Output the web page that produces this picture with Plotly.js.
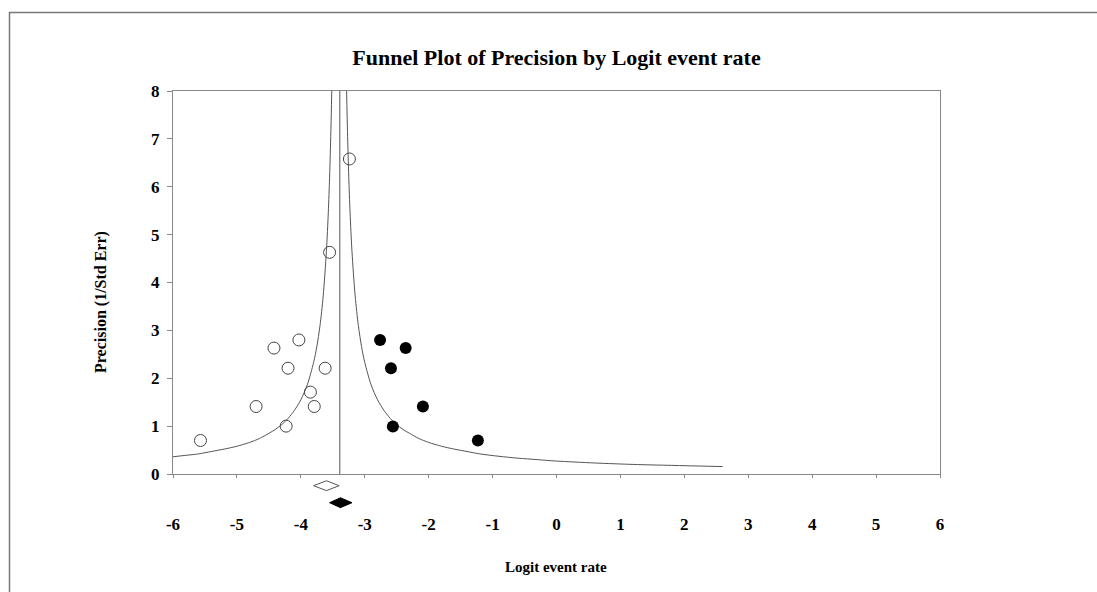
<!DOCTYPE html>
<html>
<head>
<meta charset="utf-8">
<script src="https://cdn.plot.ly/plotly-3.0.1.min.js"></script>
<style>html,body{margin:0;padding:0;background:#fff;}#chart{width:1097px;height:592px;}</style>
</head>
<body>
<div id="chart"></div>
<script>
// Observed studies (open circles)
var obsX = [-5.57, -4.70, -4.42, -4.03, -4.20, -3.62, -3.85, -3.79, -4.23, -3.24, -3.55];
var obsY = [0.70, 1.41, 2.63, 2.80, 2.21, 2.21, 1.71, 1.41, 1.00, 6.58, 4.63];
// Imputed studies (filled circles)
var impX = [-2.76, -2.36, -2.59, -2.09, -2.56, -1.23];
var impY = [2.80, 2.63, 2.21, 1.41, 0.99, 0.70];
// Funnel limits
var leftX = [-6.0,-5.8,-5.6,-5.4,-5.2,-5.0,-4.8,-4.65,-4.5,-4.4,-4.3,-4.2,-4.1,-4.0,-3.9,-3.8,-3.75,-3.7,-3.65,-3.6,-3.57,-3.55,-3.53,-3.516];
var leftY = [0.36,0.39,0.42,0.47,0.52,0.58,0.66,0.74,0.85,0.93,1.03,1.16,1.33,1.55,1.86,2.33,2.66,3.10,3.72,4.65,5.47,6.20,7.15,8.0];
var rightX = [-3.284,-3.27,-3.25,-3.23,-3.2,-3.15,-3.1,-3.05,-3.0,-2.9,-2.8,-2.7,-2.6,-2.5,-2.4,-2.3,-2.15,-2.0,-1.8,-1.6,-1.4,-1.2,-0.9,-0.6,-0.3,0.0,0.6,1.2,1.8,2.6];
var rightY = [8.0,7.15,6.2,5.47,4.65,3.72,3.10,2.66,2.33,1.86,1.55,1.33,1.16,1.03,0.93,0.85,0.74,0.66,0.58,0.52,0.47,0.42,0.37,0.33,0.30,0.27,0.23,0.20,0.18,0.155];
// Combined estimate line
var centerX = -3.39;
var centerY = [0, 8];
// Summary diamonds: [lower, estimate, upper]
var obsDiamond = [-3.80, -3.60, -3.40];
var impDiamond = [-3.55, -3.38, -3.20];
var xTicks = [-6,-5,-4,-3,-2,-1,0,1,2,3,4,5,6];
var yTicks = [0,1,2,3,4,5,6,7,8];

var serif = 'Liberation Serif, Times New Roman, serif';
var H = 0.29;
function diamond(d, row) {
  return {x: [d[0], d[1], d[2], d[1], d[0]], y: [row, row - H, row, row + H, row]};
}
var dO = diamond(obsDiamond, 1), dI = diamond(impDiamond, 2);

var traces = [
  {x: leftX, y: leftY, mode: 'lines', line: {color: '#555', width: 1, shape: 'spline', smoothing: 0.8}, hoverinfo: 'skip'},
  {x: rightX, y: rightY, mode: 'lines', line: {color: '#555', width: 1, shape: 'spline', smoothing: 0.8}, hoverinfo: 'skip'},
  {x: [centerX, centerX], y: centerY, mode: 'lines', line: {color: '#555', width: 1}},
  {x: obsX, y: obsY, mode: 'markers', marker: {symbol: 'circle-open', size: 12, color: '#444', line: {width: 1}}},
  {x: impX, y: impY, mode: 'markers', marker: {symbol: 'circle', size: 12, color: '#000'}},
  {x: dO.x, y: dO.y, yaxis: 'y2', mode: 'lines', fill: 'toself', fillcolor: '#fff', line: {color: '#555', width: 1}},
  {x: dI.x, y: dI.y, yaxis: 'y2', mode: 'lines', fill: 'toself', fillcolor: '#000', line: {color: '#000', width: 1}}
];

var layout = {
  width: 1097, height: 592,
  margin: {l: 173, r: 157, t: 91, b: 80},
  paper_bgcolor: '#fff', plot_bgcolor: '#fff',
  showlegend: false,
  title: {text: 'Funnel Plot of Precision by Logit event rate', x: 0.5, xref: 'paper', y: 1 - 57/592, yanchor: 'middle',
          font: {family: serif, size: 22, color: '#000', weight: 'bold'}},
  xaxis: {range: [-6, 6], tickvals: xTicks, ticktext: xTicks.map(String), anchor: 'y',
          showline: true, mirror: true, linecolor: '#888', linewidth: 1, showgrid: false, zeroline: false,
          ticks: 'outside', ticklen: 3, tickcolor: '#888',
          tickfont: {family: serif, size: 17, color: '#000', weight: 'bold'}, ticklabelstandoff: 32},
  xaxis2: {range: [-6, 6], overlaying: 'x', anchor: 'y', side: 'bottom', tickvals: xTicks, showticklabels: false,
           ticks: 'inside', ticklen: 2, tickcolor: '#888', showline: false, showgrid: false, zeroline: false},
  yaxis: {range: [0, 8], domain: [38/421, 1], tickvals: yTicks, ticktext: yTicks.map(String),
          showline: true, mirror: true, linecolor: '#888', linewidth: 1, showgrid: false, zeroline: false,
          ticks: 'outside', ticklen: 5, tickcolor: '#888',
          tickfont: {family: serif, size: 17, color: '#000', weight: 'bold'}, ticklabelstandoff: 4},
  yaxis2: {domain: [0, 38/421], range: [2.547, 0.312], anchor: 'x', visible: false, showgrid: false, zeroline: false},
  annotations: [
    {text: 'Precision (1/Std Err)', xref: 'paper', yref: 'paper', x: (101-173)/767, y: (512-302)/421,
     textangle: -90, showarrow: false, xanchor: 'center', yanchor: 'middle',
     font: {family: serif, size: 16, color: '#000', weight: 'bold'}},
    {text: 'Logit event rate', xref: 'paper', yref: 'paper', x: (556-173)/767, y: (512-567)/421,
     showarrow: false, xanchor: 'center', yanchor: 'middle',
     font: {family: serif, size: 15, color: '#000', weight: 'bold'}}
  ],
  shapes: [
    {type: 'line', xref: 'paper', yref: 'paper', x0: (9-173)/767, x1: (1097-173)/767, y0: (512-12.5)/421, y1: (512-12.5)/421,
     line: {color: '#777', width: 1.5}},
    {type: 'line', xref: 'paper', yref: 'paper', x0: (9.5-173)/767, x1: (9.5-173)/767, y0: (512-12)/421, y1: (512-600)/421,
     line: {color: '#777', width: 1.5}}
  ]
};
Plotly.newPlot('chart', traces, layout, {displayModeBar: false, staticPlot: true});
</script>
</body>
</html>
